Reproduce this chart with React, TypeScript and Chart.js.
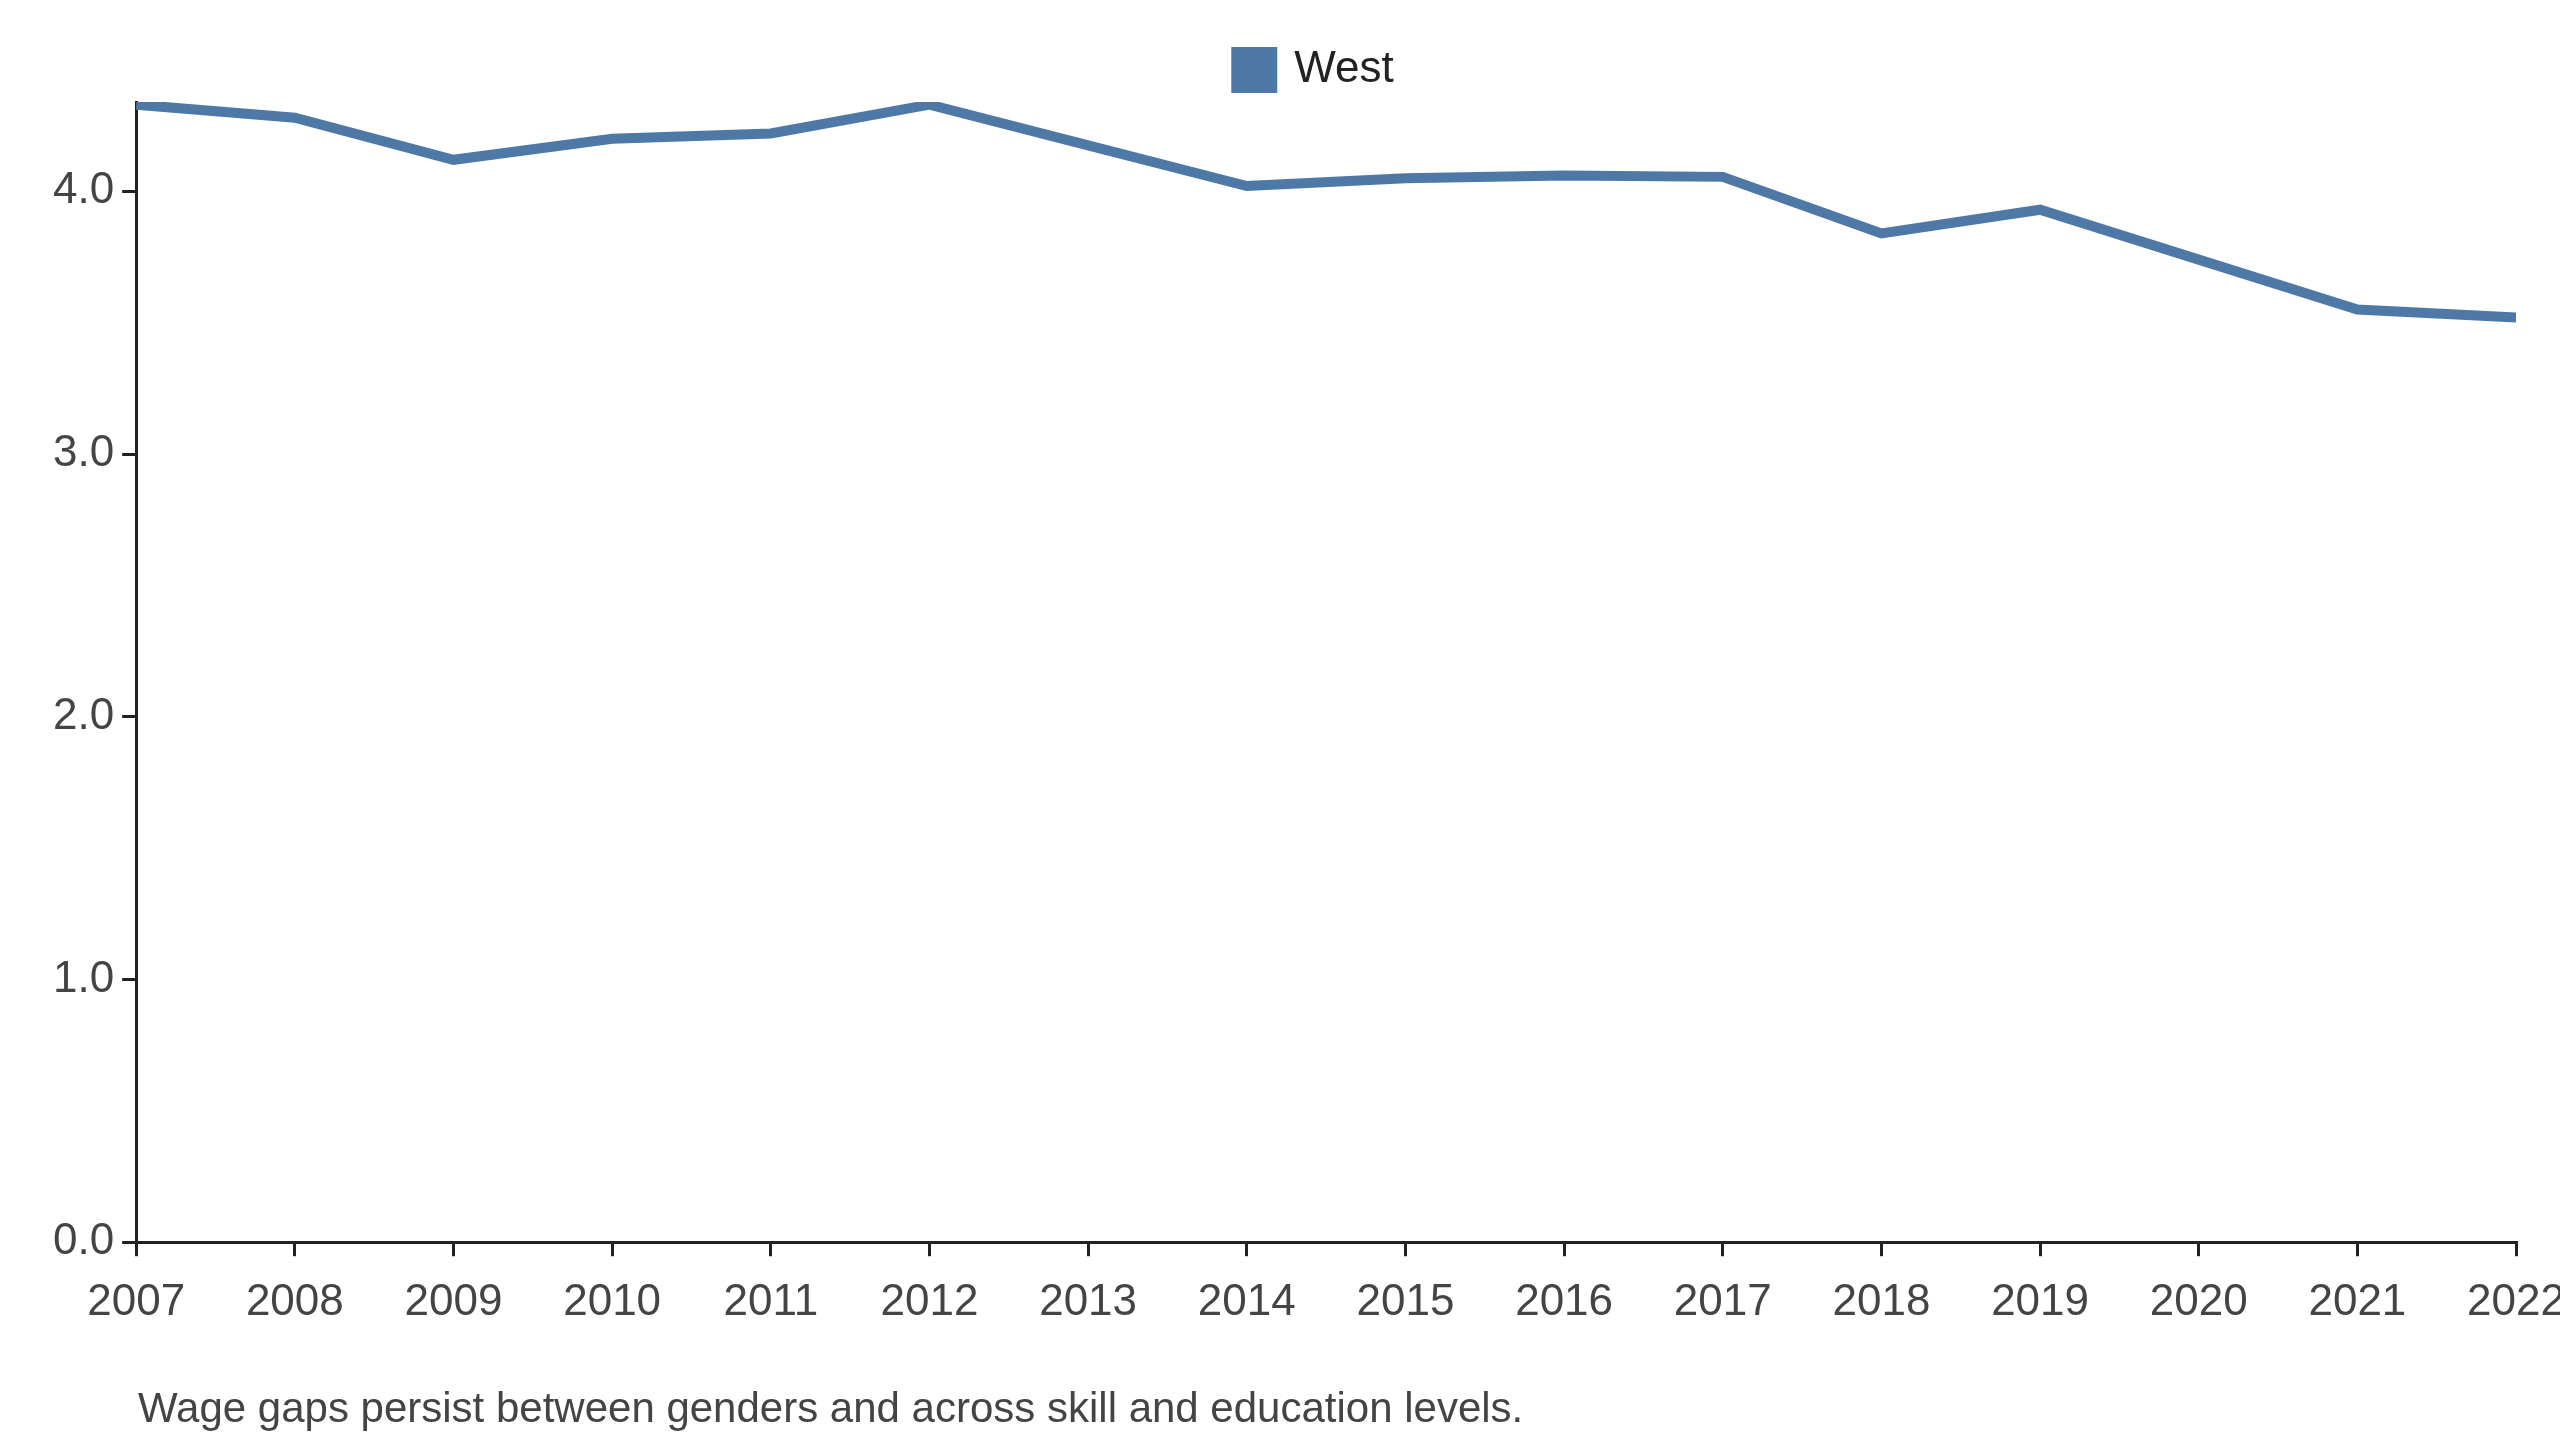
import React, { useEffect, useRef } from "react";
import { Chart, registerables } from "chart.js";
Chart.register(...registerables);

const years = [2007, 2008, 2009, 2010, 2011, 2012, 2013, 2014, 2015, 2016, 2017, 2018, 2019, 2020, 2021, 2022];
const westValues = [4.33, 4.28, 4.12, 4.2, 4.22, 4.33, 4.175, 4.02, 4.05, 4.06, 4.055, 3.84, 3.93, 3.74, 3.55, 3.52];
const yTicks = [0, 1, 2, 3, 4];
const caption = "Wage gaps persist between genders and across skill and education levels.";

export default function App() {
  const ref = useRef<HTMLCanvasElement>(null);
  useEffect(() => {
    const ctx = ref.current!;
    const font = { family: "Arial, Liberation Sans, sans-serif", size: 44 };
    const chart = new Chart(ctx, {
      type: "line",
      data: {
        datasets: [{
          label: "West",
          data: years.map((y, i) => ({ x: y, y: westValues[i] })),
          borderColor: "#4e79a7",
          backgroundColor: "#4e79a7",
          borderWidth: 10,
          pointRadius: 0,
          tension: 0,
        }],
      },
      options: {
        animation: false,
        responsive: false,
        layout: { padding: { left: 45, right: 0, top: 18, bottom: 91 } },
        plugins: {
          tooltip: { enabled: false },
          legend: {
            labels: { usePointStyle: true, pointStyle: "rect", boxWidth: 36, boxHeight: 36, padding: 30, color: "#222", font },
          },
        },
        scales: {
          x: {
            type: "linear", min: 2007, max: 2022,
            grid: { display: true, drawOnChartArea: false, tickLength: 14, color: "#222", lineWidth: 3 },
            border: { color: "#222", width: 3 },
            ticks: { stepSize: 1, autoSkip: false, maxRotation: 0, color: "#444", font, padding: 20, callback: (v: any) => String(v) },
            afterBuildTicks: (ax: any) => { ax.ticks = years.map((v) => ({ value: v })); },
          },
          y: {
            min: 0, max: 4.34,
            grid: { display: true, drawOnChartArea: false, tickLength: 14, color: "#222", lineWidth: 3 },
            border: { color: "#222", width: 3 },
            ticks: { color: "#444", font, padding: 8, callback: (v: any) => Number(v).toFixed(1) },
            afterBuildTicks: (ax: any) => { ax.ticks = yTicks.map((v) => ({ value: v })); },
          },
        },
      },
    });
    return () => chart.destroy();
  }, []);
  return (
    <div style={{ position: "absolute", left: 0, top: 0, width: 2560, height: 1440, background: "#fff", overflow: "hidden" }}>
      <canvas ref={ref} width={2585} height={1440} style={{ position: "absolute", left: 0, top: 0 }} />
      <div style={{ position: "absolute", left: 138, top: 1384, fontFamily: "Arial, Liberation Sans, sans-serif", fontSize: 42, color: "#444" }}>{caption}</div>
    </div>
  );
}
